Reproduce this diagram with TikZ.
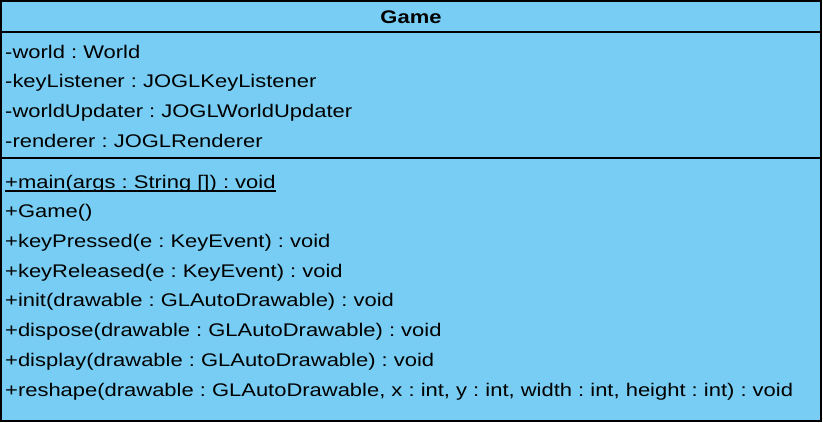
\documentclass[tikz,border=0pt]{standalone}
\usepackage{fontspec}
\setmainfont{Liberation Sans}[FakeStretch=1.2]
\usetikzlibrary{positioning}

\definecolor{classblue}{RGB}{119,205,243}

\tikzset{
  member/.style={anchor=base west, inner sep=0pt, font=\fontsize{18.3}{20}\selectfont},
  divider/.style={line width=1.3pt}
}

\begin{document}
\frenchspacing
\begin{tikzpicture}[x=1pt, y=-1pt]
    \useasboundingbox (0,0) rectangle (823,423);
    \draw[divider, fill=classblue] (1,1) rectangle (821,421);
    \draw[divider] (1,32) -- (821,32);
    \draw[divider] (1,158) -- (821,158);

    \node[anchor=base, inner sep=0pt, font=\fontsize{18.3}{20}\selectfont\bfseries] (name) at (411,23.3) {Game};

    % attributes
    \node[member] (world) at (5,58) {-world : World};
    \node[member] (keys) at (5,87.7) {-keyListener : JOGLKeyListener};
    \node[member] (updater) at (5,117.4) {-worldUpdater : JOGLWorldUpdater};
    \node[member] (renderer) at (5,147.1) {-renderer : JOGLRenderer};

    % operations
    \node[member] (main) at (5,188) {+main(args : String []) : void};
    \draw[line width=1.3pt] ([yshift=-3pt]main.base west) -- ([yshift=-3pt]main.base east);
    \node[member] (ctor) at (5,217.7) {+Game()};
    \node[member] (pressed) at (5,247.4) {+keyPressed(e : KeyEvent) : void};
    \node[member] (released) at (5,277.1) {+keyReleased(e : KeyEvent) : void};
    \node[member] (init) at (5,306.8) {+init(drawable : GLAutoDrawable) : void};
    \node[member] (dispose) at (5,336.5) {+dispose(drawable : GLAutoDrawable) : void};
    \node[member] (display) at (5,366.2) {+display(drawable : GLAutoDrawable) : void};
    \node[member] (reshape) at (5,396) {+reshape(drawable : GLAutoDrawable, x : int, y : int, width : int, height : int) : void};
\end{tikzpicture}
\end{document}
